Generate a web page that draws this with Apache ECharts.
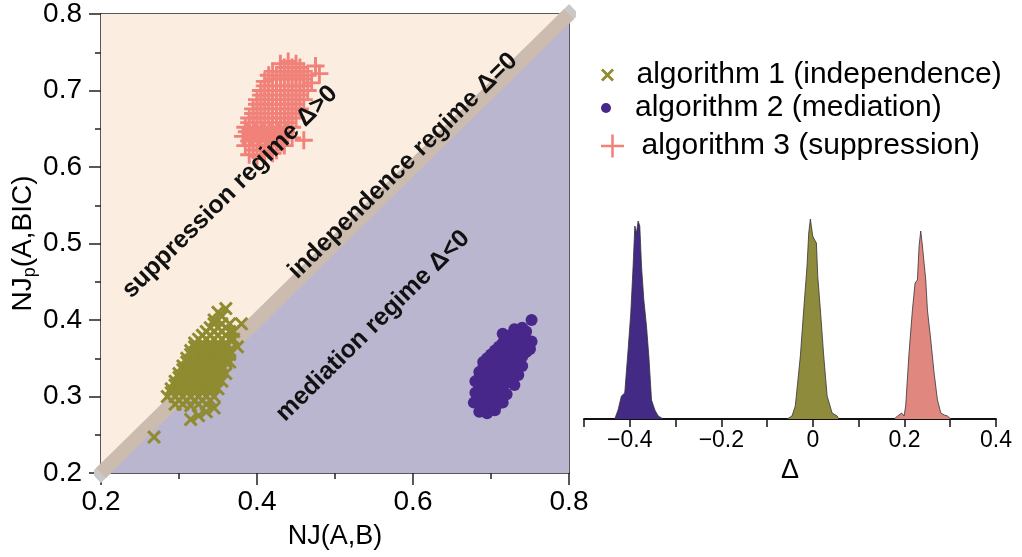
<!DOCTYPE html>
<html>
<head>
<meta charset="utf-8">
<title>NJ scatter and Delta densities</title>
<script src="https://cdn.jsdelivr.net/npm/echarts@6/dist/echarts.min.js"></script>
<style>
  html, body { margin: 0; padding: 0; background: #fff; }
  #main { width: 1022px; height: 557px; }
</style>
</head>
<body>
<div id="main"></div>
<script>
// values: [NJ(A,B), NJp(A,BIC)]
let alg1_points = [
  [0.268, 0.247],
  [0.315, 0.270], [0.325, 0.275], [0.335, 0.280],
  [0.295, 0.290], [0.305, 0.290], [0.315, 0.288], [0.325, 0.290], [0.335, 0.290], [0.345, 0.285],
  [0.300, 0.295], [0.310, 0.295], [0.320, 0.295], [0.330, 0.295], [0.340, 0.295],
  [0.285, 0.300], [0.295, 0.300], [0.305, 0.300], [0.315, 0.300], [0.325, 0.300], [0.335, 0.300], [0.345, 0.300],
  [0.290, 0.305], [0.300, 0.305], [0.310, 0.305], [0.320, 0.305], [0.330, 0.305], [0.340, 0.305],
  [0.290, 0.310], [0.300, 0.310], [0.310, 0.310], [0.320, 0.310], [0.330, 0.310], [0.340, 0.310], [0.350, 0.310],
  [0.295, 0.315], [0.305, 0.315], [0.315, 0.315], [0.325, 0.315], [0.335, 0.315], [0.345, 0.315],
  [0.295, 0.320], [0.305, 0.320], [0.315, 0.320], [0.325, 0.320], [0.335, 0.320], [0.345, 0.320], [0.355, 0.320],
  [0.300, 0.325], [0.310, 0.325], [0.320, 0.325], [0.330, 0.325], [0.340, 0.325], [0.350, 0.325],
  [0.300, 0.330], [0.310, 0.330], [0.320, 0.330], [0.330, 0.330], [0.340, 0.330], [0.350, 0.330], [0.360, 0.330],
  [0.305, 0.335], [0.315, 0.335], [0.325, 0.335], [0.335, 0.335], [0.345, 0.335], [0.355, 0.335],
  [0.305, 0.340], [0.315, 0.340], [0.325, 0.340], [0.335, 0.340], [0.345, 0.340], [0.355, 0.340], [0.365, 0.345],
  [0.310, 0.345], [0.320, 0.345], [0.330, 0.345], [0.340, 0.345], [0.350, 0.345], [0.360, 0.345],
  [0.310, 0.350], [0.320, 0.350], [0.330, 0.350], [0.340, 0.350], [0.350, 0.350], [0.360, 0.350],
  [0.315, 0.355], [0.325, 0.355], [0.335, 0.355], [0.345, 0.355], [0.355, 0.355], [0.365, 0.355],
  [0.315, 0.360], [0.325, 0.360], [0.335, 0.360], [0.345, 0.360], [0.355, 0.360], [0.365, 0.360], [0.375, 0.365],
  [0.320, 0.365], [0.330, 0.365], [0.340, 0.365], [0.350, 0.365], [0.360, 0.365],
  [0.320, 0.370], [0.330, 0.370], [0.340, 0.370], [0.350, 0.370], [0.360, 0.370], [0.370, 0.375],
  [0.325, 0.375], [0.335, 0.375], [0.345, 0.375], [0.355, 0.375], [0.365, 0.375],
  [0.330, 0.380], [0.340, 0.380], [0.350, 0.380], [0.360, 0.380], [0.370, 0.385],
  [0.335, 0.385], [0.345, 0.385], [0.355, 0.385], [0.365, 0.385],
  [0.340, 0.390], [0.350, 0.390], [0.360, 0.390], [0.380, 0.395],
  [0.345, 0.395], [0.355, 0.395], [0.365, 0.395],
  [0.345, 0.400], [0.355, 0.405], [0.350, 0.410], [0.360, 0.415]
]

let alg2_points = [
  [0.752, 0.400], [0.715, 0.382],
  [0.730, 0.388], [0.740, 0.390], [0.745, 0.385], [0.735, 0.383], [0.725, 0.380], [0.745, 0.375],
  [0.720, 0.375], [0.730, 0.378], [0.740, 0.380], [0.752, 0.372],
  [0.715, 0.370], [0.725, 0.372], [0.735, 0.372], [0.745, 0.370],
  [0.710, 0.365], [0.720, 0.368], [0.730, 0.365], [0.740, 0.368], [0.750, 0.362],
  [0.705, 0.360], [0.715, 0.360], [0.725, 0.360], [0.735, 0.360], [0.745, 0.358],
  [0.700, 0.355], [0.710, 0.355], [0.720, 0.355], [0.730, 0.355], [0.740, 0.352],
  [0.695, 0.350], [0.705, 0.350], [0.715, 0.350], [0.725, 0.350], [0.735, 0.348],
  [0.690, 0.345], [0.700, 0.343], [0.710, 0.345], [0.720, 0.343], [0.730, 0.343], [0.740, 0.340],
  [0.690, 0.338], [0.700, 0.338], [0.710, 0.338], [0.720, 0.337], [0.730, 0.336],
  [0.685, 0.332], [0.695, 0.330], [0.705, 0.333], [0.715, 0.330], [0.725, 0.330], [0.735, 0.328],
  [0.685, 0.325], [0.695, 0.325], [0.705, 0.325], [0.715, 0.325], [0.725, 0.323],
  [0.680, 0.320], [0.690, 0.318], [0.700, 0.320], [0.710, 0.318], [0.720, 0.318], [0.730, 0.315],
  [0.685, 0.312], [0.695, 0.312], [0.705, 0.312], [0.715, 0.310],
  [0.680, 0.305], [0.690, 0.307], [0.700, 0.305], [0.710, 0.305], [0.720, 0.303],
  [0.685, 0.298], [0.695, 0.298], [0.705, 0.298], [0.715, 0.298],
  [0.678, 0.292], [0.688, 0.293], [0.698, 0.290], [0.708, 0.290], [0.715, 0.292],
  [0.690, 0.285], [0.700, 0.285],
  [0.685, 0.280], [0.695, 0.278], [0.705, 0.282]
]

let alg3_points = [
  [0.430, 0.735], [0.440, 0.738], [0.450, 0.735], [0.475, 0.732],
  [0.435, 0.730], [0.445, 0.730], [0.455, 0.730],
  [0.420, 0.725], [0.430, 0.725], [0.440, 0.725], [0.450, 0.725], [0.460, 0.725], [0.480, 0.722],
  [0.415, 0.720], [0.425, 0.720], [0.435, 0.720], [0.445, 0.720], [0.455, 0.720], [0.465, 0.720],
  [0.410, 0.712], [0.420, 0.715], [0.430, 0.715], [0.440, 0.715], [0.450, 0.715], [0.460, 0.715], [0.470, 0.710],
  [0.410, 0.706], [0.420, 0.706], [0.430, 0.706], [0.440, 0.706], [0.450, 0.706], [0.460, 0.706],
  [0.405, 0.700], [0.415, 0.700], [0.425, 0.700], [0.435, 0.700], [0.445, 0.700], [0.455, 0.700], [0.465, 0.700],
  [0.405, 0.694], [0.415, 0.694], [0.425, 0.694], [0.435, 0.694], [0.445, 0.694], [0.455, 0.694],
  [0.400, 0.688], [0.410, 0.688], [0.420, 0.688], [0.430, 0.688], [0.440, 0.688], [0.450, 0.688], [0.460, 0.688],
  [0.400, 0.682], [0.410, 0.682], [0.420, 0.682], [0.430, 0.682], [0.440, 0.682], [0.450, 0.682],
  [0.395, 0.676], [0.405, 0.676], [0.415, 0.676], [0.425, 0.676], [0.435, 0.676], [0.445, 0.676], [0.455, 0.676],
  [0.395, 0.670], [0.405, 0.670], [0.415, 0.670], [0.425, 0.670], [0.435, 0.670], [0.445, 0.670],
  [0.390, 0.664], [0.400, 0.664], [0.410, 0.664], [0.420, 0.664], [0.430, 0.664], [0.440, 0.664], [0.450, 0.664],
  [0.390, 0.658], [0.400, 0.658], [0.410, 0.658], [0.420, 0.658], [0.430, 0.658], [0.440, 0.658],
  [0.385, 0.652], [0.395, 0.652], [0.405, 0.652], [0.415, 0.652], [0.425, 0.652], [0.435, 0.652], [0.445, 0.652],
  [0.387, 0.646], [0.397, 0.646], [0.407, 0.646], [0.417, 0.646], [0.427, 0.646], [0.437, 0.646],
  [0.382, 0.640], [0.392, 0.640], [0.402, 0.640], [0.412, 0.640], [0.422, 0.640], [0.432, 0.640], [0.445, 0.638], [0.460, 0.635],
  [0.390, 0.634], [0.400, 0.634], [0.410, 0.634], [0.420, 0.634], [0.430, 0.634],
  [0.385, 0.628], [0.395, 0.628], [0.405, 0.628], [0.415, 0.628], [0.425, 0.628], [0.435, 0.628],
  [0.395, 0.622], [0.405, 0.622], [0.415, 0.622], [0.425, 0.622],
  [0.390, 0.616], [0.400, 0.614], [0.410, 0.616], [0.420, 0.618]
]

// density of Delta for each algorithm: [Delta, density]
let alg2_density = [
  [-0.4329, 0], [-0.4256, 9], [-0.4183, 23], [-0.4110, 26], [-0.4037, 69], [-0.3978, 106],
  [-0.3927, 153], [-0.3890, 193], [-0.3854, 186], [-0.3817, 198], [-0.3781, 193], [-0.3744, 153],
  [-0.3693, 119], [-0.3635, 93], [-0.3584, 63], [-0.3525, 19], [-0.3452, 9], [-0.3379, 3], [-0.3269, 0]
]
let alg1_density = [
  [-0.0566, 0], [-0.0457, 3], [-0.0384, 13], [-0.0274, 63], [-0.0201, 109], [-0.0128, 153],
  [-0.0091, 186], [-0.0055, 200], [-0.0004, 183], [0.0040, 179], [0.0077, 176], [0.0106, 143],
  [0.0164, 109], [0.0237, 63], [0.0311, 23], [0.0420, 6], [0.0530, 3], [0.0566, 0]
]
let alg3_density = [
  [0.1772, 0], [0.1881, 4], [0.1940, 6], [0.1991, 3], [0.2027, 13], [0.2100, 66], [0.2174, 109],
  [0.2232, 136], [0.2283, 139], [0.2320, 173], [0.2356, 188], [0.2393, 173], [0.2429, 156],
  [0.2466, 139], [0.2502, 109], [0.2575, 79], [0.2648, 46], [0.2721, 19], [0.2795, 6],
  [0.2868, 4], [0.2941, 3], [0.3014, 0]
]

let series_names = ['algorithm 1 (independence)', 'algorithm 2 (mediation)', 'algorithm 3 (suppression)']
let regime_labels = ['suppression regime Δ>0', 'independence regime Δ=0', 'mediation regime Δ<0']

// regime regions, corners in data units
let suppression_region = [[0.2, 0.2], [0.2, 0.8], [0.8, 0.8]]
let mediation_region = [[0.2, 0.2], [0.8, 0.2], [0.8, 0.8]]
let independence_line = [[0.2, 0.2], [0.8, 0.8]]

let font = 'Liberation Sans, Arial, Helvetica, sans-serif'
let cross_path = 'path://M0,1.5 L1.5,0 L5,3.5 L8.5,0 L10,1.5 L6.5,5 L10,8.5 L8.5,10 L5,6.5 L1.5,10 L0,8.5 L3.5,5 Z'
let plus_path = 'path://M4.2,0 H5.8 V4.2 H10 V5.8 H5.8 V10 H4.2 V5.8 H0 V4.2 H4.2 Z'
let plus_thin = 'path://M4.45,0 H5.55 V4.45 H10 V5.55 H5.55 V10 H4.45 V5.55 H0 V4.45 H4.45 Z'

let colors = ['#8F8B30', '#48278A', '#F0827A']
let density_colors = ['#8E8B3C', '#432A85', '#E0877F']
let region_colors = ['#FBEDE0', '#BAB6CF']

let chart = echarts.init(document.getElementById('main'))

function mainAxis(extra) {
  return Object.assign({
    gridIndex: 0,
    type: 'value',
    min: 0.2,
    max: 0.8,
    splitLine: { show: false },
    axisLine: { lineStyle: { color: '#222', width: 1.5 } },
    axisTick: { length: 12, lineStyle: { color: '#222', width: 1.5 } },
    minorTick: { show: true, splitNumber: 2, length: 6, lineStyle: { color: '#222', width: 1.5 } },
    nameTextStyle: { fontSize: 27, color: '#000', fontFamily: font }
  }, extra)
}

function frameAxis(position) {
  return {
    gridIndex: 0,
    type: 'value',
    position: position,
    min: 0.2,
    max: 0.8,
    axisLine: { show: true, lineStyle: { color: '#222', width: 1.5 } },
    axisTick: { show: false },
    axisLabel: { show: false },
    splitLine: { show: false }
  }
}

function legendRow(i, icon, h, top) {
  return {
    data: [{ name: series_names[i], icon: icon }],
    left: 596,
    top: top,
    itemWidth: 48,
    itemHeight: h,
    selectedMode: false,
    textStyle: { fontSize: 30, color: '#000', fontFamily: font }
  }
}

function regimeText(i, x, y) {
  return {
    type: 'text', x: x, y: y, rotation: 0.778, z: 100,
    style: {
      text: regime_labels[i],
      font: 'bold 25px ' + font,
      fill: '#111',
      align: 'center', verticalAlign: 'middle',
      textAlign: 'center', textVerticalAlign: 'middle'
    }
  }
}

let option = {
  animation: false,
  backgroundColor: '#fff',
  textStyle: { fontFamily: font },
  grid: [
    { left: 101, top: 14, width: 468, height: 459 },
    { left: 584, top: 210, width: 412, height: 209 }
  ],
  legend: [
    legendRow(0, cross_path, 13, 55),
    legendRow(1, 'circle', 10, 88),
    legendRow(2, plus_thin, 23, 126)
  ],
  xAxis: [
    mainAxis({
      interval: 0.2,
      name: 'NJ(A,B)',
      nameLocation: 'middle',
      nameGap: 50,
      axisLabel: { fontSize: 28, color: '#000', fontFamily: font, margin: 15, formatter: v => v.toFixed(1) }
    }),
    frameAxis('top'),
    {
      gridIndex: 1,
      type: 'value',
      min: -0.5,
      max: 0.4,
      interval: 0.1,
      name: 'Δ',
      nameLocation: 'middle',
      nameGap: 38,
      nameTextStyle: { fontSize: 27, color: '#000', fontFamily: font },
      splitLine: { show: false },
      axisLine: { lineStyle: { color: '#111', width: 1.8 } },
      axisTick: { length: 8, lineStyle: { color: '#111', width: 1.5 } },
      axisLabel: {
        fontSize: 23,
        color: '#000',
        margin: 10,
        fontFamily: font,
        formatter: function (v) {
          let k = Math.round(v * 10)
          if (k % 2 !== 0) return ''
          if (k === 0) return '0'
          return (k < 0 ? '\u2212' : '') + Math.abs(k / 10)
        }
      }
    }
  ],
  yAxis: [
    mainAxis({
      interval: 0.1,
      name: '{n|NJ}{s|p}{n|(A,BIC)}',
      nameLocation: 'middle',
      nameGap: 60,
      axisLabel: { fontSize: 28, color: '#000', fontFamily: font, margin: 19, formatter: v => v.toFixed(1) },
      nameTextStyle: {
        color: '#000',
        fontFamily: font,
        rich: {
          n: { fontSize: 28, fontFamily: font, color: '#000', lineHeight: 32, verticalAlign: 'middle' },
          s: { fontSize: 18, fontFamily: font, color: '#000', lineHeight: 32, verticalAlign: 'bottom', padding: [13, 0, 0, 0] }
        }
      }
    }),
    frameAxis('right'),
    {
      gridIndex: 1,
      type: 'value',
      min: 0,
      max: 209,
      show: false
    }
  ],
  series: [
    {
      // band shows outside the box as grey caps
      type: 'line',
      xAxisIndex: 0,
      yAxisIndex: 0,
      z: 0,
      clip: false,
      silent: true,
      symbol: 'none',
      data: independence_line,
      lineStyle: { color: '#C9C9C9', width: 14, cap: 'square' }
    },
    {
      type: 'custom',
      xAxisIndex: 0,
      yAxisIndex: 0,
      z: 1,
      silent: true,
      data: [0, 1],
      renderItem: function (params, api) {
        let poly = params.dataIndex === 0 ? suppression_region : mediation_region
        return {
          type: 'polygon',
          shape: { points: poly.map(p => api.coord(p)) },
          style: { fill: region_colors[params.dataIndex] }
        }
      }
    },
    {
      type: 'line',
      xAxisIndex: 0,
      yAxisIndex: 0,
      z: 2,
      clip: true,
      silent: true,
      symbol: 'none',
      data: independence_line,
      lineStyle: { color: '#CBBCAF', width: 14 }
    },
    {
      name: series_names[0],
      type: 'scatter',
      xAxisIndex: 0,
      yAxisIndex: 0,
      z: 3,
      symbol: cross_path,
      symbolSize: 14,
      itemStyle: { color: colors[0], opacity: 1 },
      data: alg1_points
    },
    {
      name: series_names[1],
      type: 'scatter',
      xAxisIndex: 0,
      yAxisIndex: 0,
      z: 3,
      symbol: 'circle',
      symbolSize: 12,
      itemStyle: { color: colors[1], opacity: 1 },
      data: alg2_points
    },
    {
      name: series_names[2],
      type: 'scatter',
      xAxisIndex: 0,
      yAxisIndex: 0,
      z: 3,
      symbol: plus_path,
      symbolSize: 18,
      itemStyle: { color: colors[2], opacity: 1 },
      data: alg3_points
    },
    {
      name: 'density 1',
      type: 'line',
      xAxisIndex: 2,
      yAxisIndex: 2,
      symbol: 'none',
      data: alg1_density,
      lineStyle: { color: '#333', width: 0.8 },
      areaStyle: { color: density_colors[0], opacity: 1 }
    },
    {
      name: 'density 2',
      type: 'line',
      xAxisIndex: 2,
      yAxisIndex: 2,
      symbol: 'none',
      data: alg2_density,
      lineStyle: { color: '#333', width: 0.8 },
      areaStyle: { color: density_colors[1], opacity: 1 }
    },
    {
      name: 'density 3',
      type: 'line',
      xAxisIndex: 2,
      yAxisIndex: 2,
      symbol: 'none',
      data: alg3_density,
      lineStyle: { color: '#333', width: 0.8 },
      areaStyle: { color: density_colors[2], opacity: 1 }
    }
  ],
  graphic: [
    regimeText(0, 230, 192),
    regimeText(1, 403, 166),
    regimeText(2, 373, 326)
  ]
}

chart.setOption(option)
</script>
</body>
</html>
